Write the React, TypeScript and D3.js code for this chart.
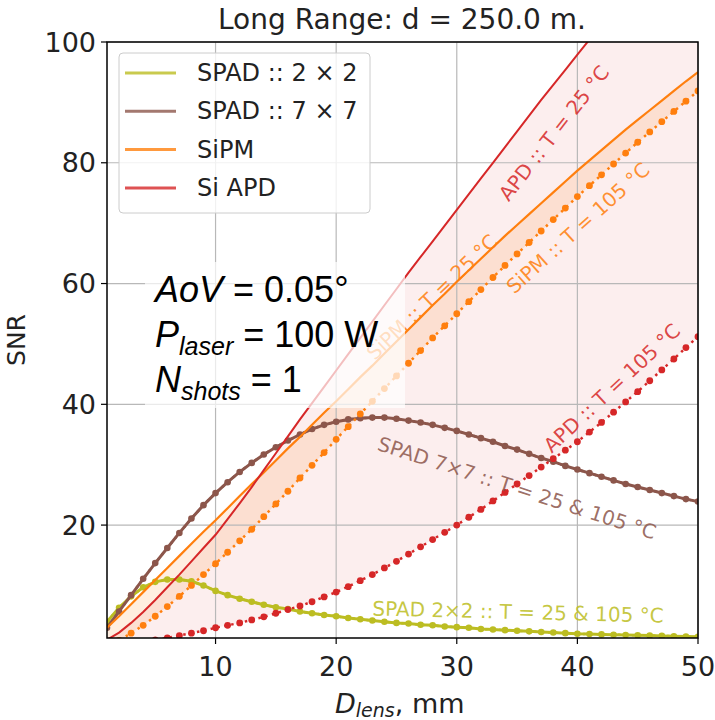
import React from 'react';
import * as d3 from 'd3';

const D_LENS = [1,2,3,4,5,6,7,8,9,10,11,12,13,14,15,16,17,18,19,20,21,22,23,24,25,26,27,28,29,30,31,32,33,34,35,36,37,38,39,40,41,42,43,44,45,46,47,48,49,50];

const SPAD_2X2 = [4.0,6.3,8.2,9.7,10.6,11.0,11.0,10.7,10.0,9.1,8.4,7.8,7.3,6.8,6.4,6.1,5.7,5.4,5.1,4.9,4.6,4.4,4.2,4.0,3.8,3.7,3.5,3.4,3.2,3.1,3.0,2.8,2.7,2.6,2.5,2.4,2.3,2.2,2.1,2.0,1.95,1.9,1.85,1.8,1.75,1.7,1.65,1.6,1.55,1.5];

const SPAD_7X7 = [3.0,5.7,8.4,11.1,13.7,16.2,18.7,21.1,23.3,25.3,27.1,28.8,30.3,31.7,32.9,34.0,35.0,35.9,36.6,37.1,37.5,37.7,37.8,37.8,37.6,37.3,37.0,36.6,36.1,35.6,35.0,34.4,33.8,33.1,32.5,31.8,31.1,30.5,29.8,29.2,28.6,28.0,27.4,26.8,26.3,25.8,25.3,24.8,24.3,23.9];

const SIPM_25 = [3.0,4.9,6.9,8.9,10.9,12.9,14.9,16.9,18.9,20.8,22.8,24.8,26.8,28.7,30.7,32.7,34.6,36.6,38.6,40.5,42.5,44.5,46.4,48.4,50.4,52.4,54.4,56.4,58.3,60.3,62.2,64.1,66.0,67.9,69.7,71.5,73.3,75.1,76.9,78.7,80.4,82.1,83.8,85.5,87.1,88.7,90.3,91.9,93.5,95.0];

const SIPM_105 = [0.0,0.9,2.1,3.4,4.9,6.5,8.2,10.0,11.8,13.6,15.5,17.4,19.3,21.4,23.5,25.6,27.8,29.9,32.0,34.2,36.3,38.4,40.5,42.6,44.7,46.8,48.9,51.0,53.0,55.0,57.0,59.0,61.0,63.0,64.9,66.8,68.7,70.6,72.5,74.4,76.2,78.0,79.8,81.6,83.4,85.1,86.8,88.5,90.2,91.9];

const APD_25 = [1.0,2.2,3.8,5.6,7.6,9.7,11.8,14.0,16.2,18.4,21.0,23.6,26.3,29.1,31.9,34.7,37.5,40.2,42.9,45.6,48.3,51.0,53.7,56.4,59.1,61.8,64.4,67.0,69.6,72.2,74.8,77.4,80.0,82.6,85.2,87.8,90.4,92.9,95.4,97.9,100.4,102.9,105.4,107.9,110.4,112.9,115.4,117.9,120.4,122.9];

const APD_105 = [0.1,0.3,0.5,0.7,1.0,1.3,1.7,2.1,2.5,3.0,3.4,3.8,4.3,4.8,5.4,6.0,6.6,7.3,8.1,8.9,9.8,10.8,11.8,12.9,14.0,15.2,16.4,17.6,18.8,20.0,21.3,22.6,24.0,25.4,26.8,28.2,29.6,31.0,32.4,33.8,35.4,37.0,38.7,40.4,42.1,43.9,45.7,47.5,49.4,51.2];

const X_TICKS = [10, 20, 30, 40, 50];
const Y_TICKS = [20, 40, 60, 80, 100];
const LEGEND_LABELS = ['SPAD :: 2 × 2', 'SPAD :: 7 × 7', 'SiPM', 'Si APD'];
const TITLE = 'Long Range: d = 250.0 m.';

const C_OLIVE = '#bcbd22';
const C_BROWN = '#8c564b';
const C_ORANGE = '#ff7f0e';
const C_RED = '#d62728';
const LEGEND_COLORS = [C_OLIVE, C_BROWN, C_ORANGE, C_RED];

const W = 715, H = 720;
const L = 107, R = 698, T = 42, B = 638;
const FONT = 'DejaVu Sans, sans-serif';

export default function App() {
  const x = d3.scaleLinear().domain([1, 50]).range([L, R]);
  const y = d3.scaleLinear().domain([1.3, 100]).range([B, T]);
  const pts = (arr: number[]) => D_LENS.map((d, i) => [d, arr[i]] as [number, number]);
  const line = d3.line<[number, number]>().x(d => x(d[0])).y(d => y(d[1]));
  const area = (a: number[], b: number[]) =>
    d3.area<number>().x(d => x(d)).y0((d, i) => y(a[i])).y1((d, i) => y(b[i]))(D_LENS) || '';

  const dotted = (arr: number[], color: string, r: number, key: string) => (
    <g key={key}>
      <path d={line(pts(arr)) || ''} fill="none" stroke={color} strokeWidth={2.5} strokeDasharray="2.5,4.5" />
      {pts(arr).map((p, i) => (
        <circle key={i} cx={x(p[0])} cy={y(p[1])} r={r} fill={color} />
      ))}
    </g>
  );

  const labels = [
    { t: 'APD :: T = 25 °C', cx: 554, cy: 133, a: -52, c: C_RED },
    { t: 'SiPM :: T = 105 °C', cx: 578, cy: 228, a: -42, c: C_ORANGE },
    { t: 'SiPM :: T = 25 °C', cx: 432, cy: 297, a: -43.5, c: C_ORANGE },
    { t: 'APD :: T = 105 °C', cx: 612, cy: 388, a: -43, c: C_RED },
    { t: 'SPAD 7×7 :: T = 25 & 105 °C', cx: 517, cy: 488, a: 18, c: C_BROWN },
    { t: 'SPAD 2×2 :: T = 25 & 105 °C', cx: 518, cy: 612, a: 1.4, c: C_OLIVE },
  ];

  return (
    <svg width={W} height={H} style={{ position: 'absolute', left: 0, top: 0, background: '#fff' }}>
      <defs>
        <clipPath id="plot">
          <rect x={L} y={T} width={R - L} height={B - T} />
        </clipPath>
      </defs>
      <rect x={0} y={0} width={W} height={H} fill="#fff" />
      <text x={402} y={29} textAnchor="middle" fontFamily={FONT} fontSize={28} fill="#222">{TITLE}</text>

      <g clipPath="url(#plot)">
        <path d={area(APD_25, APD_105)} fill={C_RED} fillOpacity={0.08} />
        <path d={area(SIPM_25, SIPM_105)} fill={C_ORANGE} fillOpacity={0.13} />
      </g>

      {/* grid */}
      {X_TICKS.map(t => (
        <line key={'gx' + t} x1={x(t)} x2={x(t)} y1={T} y2={B} stroke="#b8b8b8" strokeWidth={1.2} />
      ))}
      {Y_TICKS.map(t => (
        <line key={'gy' + t} x1={L} x2={R} y1={y(t)} y2={y(t)} stroke="#b8b8b8" strokeWidth={1.2} />
      ))}

      <g clipPath="url(#plot)">
        {dotted(SPAD_2X2, C_OLIVE, 3.3, 's2d')}
        <path d={line(pts(SPAD_2X2)) || ''} fill="none" stroke={C_OLIVE} strokeWidth={3} />
        {dotted(SPAD_7X7, C_BROWN, 3.3, 's7d')}
        <path d={line(pts(SPAD_7X7)) || ''} fill="none" stroke={C_BROWN} strokeWidth={3} />
        <path d={line(pts(SIPM_25)) || ''} fill="none" stroke={C_ORANGE} strokeWidth={2.2} />
        {dotted(SIPM_105, C_ORANGE, 3.4, 'sid')}
        <path d={line(pts(APD_25)) || ''} fill="none" stroke={C_RED} strokeWidth={2} />
        {dotted(APD_105, C_RED, 3.4, 'apd')}
      </g>

      {labels.map((l, i) => (
        <text key={'lb' + i} transform={`translate(${l.cx},${l.cy}) rotate(${l.a})`} textAnchor="middle"
          dominantBaseline="central" fontFamily={FONT} fontSize={20} fill={l.c} fillOpacity={0.85}>{l.t}</text>
      ))}

      {/* annotation box */}
      <rect x={145} y={262} width={260} height={146} fill="#fff" fillOpacity={0.7} />
      <g fontFamily="Liberation Sans, Arial, sans-serif" fontSize={36} fill="#000">
        <text x={155} y={302}><tspan fontStyle="italic">AoV</tspan><tspan> = 0.05°</tspan></text>
        <text x={155} y={347}><tspan fontStyle="italic">P</tspan><tspan fontStyle="italic" fontSize={25} dy={8}>laser</tspan><tspan dy={-8}> = 100 W</tspan></text>
        <text x={155} y={392}><tspan fontStyle="italic">N</tspan><tspan fontStyle="italic" fontSize={25} dy={8}>shots</tspan><tspan dy={-8}> = 1</tspan></text>
      </g>

      {/* legend */}
      <rect x={119} y={53} width={251} height={160} rx={4} fill="#fff" fillOpacity={0.8} stroke="#cccccc" strokeWidth={1} />
      {LEGEND_LABELS.map((lab, i) => {
        const ly = 73 + i * 38.3;
        return (
          <g key={'lg' + i}>
            <line x1={125} x2={176} y1={ly} y2={ly} stroke={LEGEND_COLORS[i]} strokeWidth={3} strokeOpacity={0.8} />
            <text x={197} y={ly} dominantBaseline="central" fontFamily={FONT} fontSize={24} fill="#222">{lab}</text>
          </g>
        );
      })}

      {/* spines */}
      <rect x={L} y={T} width={R - L} height={B - T} fill="none" stroke="#000" strokeWidth={1.5} />

      {/* ticks */}
      {X_TICKS.map(t => (
        <g key={'tx' + t}>
          <line x1={x(t)} x2={x(t)} y1={B} y2={B + 6} stroke="#000" strokeWidth={1.2} />
          <text x={x(t)} y={B + 38} textAnchor="middle" fontFamily={FONT} fontSize={27} fill="#222">{t}</text>
        </g>
      ))}
      {Y_TICKS.map(t => (
        <g key={'ty' + t}>
          <line x1={L - 6} x2={L} y1={y(t)} y2={y(t)} stroke="#000" strokeWidth={1.2} />
          <text x={L - 11} y={y(t)} textAnchor="end" dominantBaseline="central" fontFamily={FONT} fontSize={27} fill="#222">{t}</text>
        </g>
      ))}

      <text transform={`translate(25, 340) rotate(-90)`} textAnchor="middle" fontFamily={FONT} fontSize={25} fill="#222">SNR</text>
      <text x={335} y={713} fontFamily={FONT} fontSize={27} fill="#222">
        <tspan fontStyle="italic">D</tspan><tspan fontStyle="italic" fontSize={19} dy={4}>lens</tspan><tspan dy={-4}>, mm</tspan>
      </text>
    </svg>
  );
}
